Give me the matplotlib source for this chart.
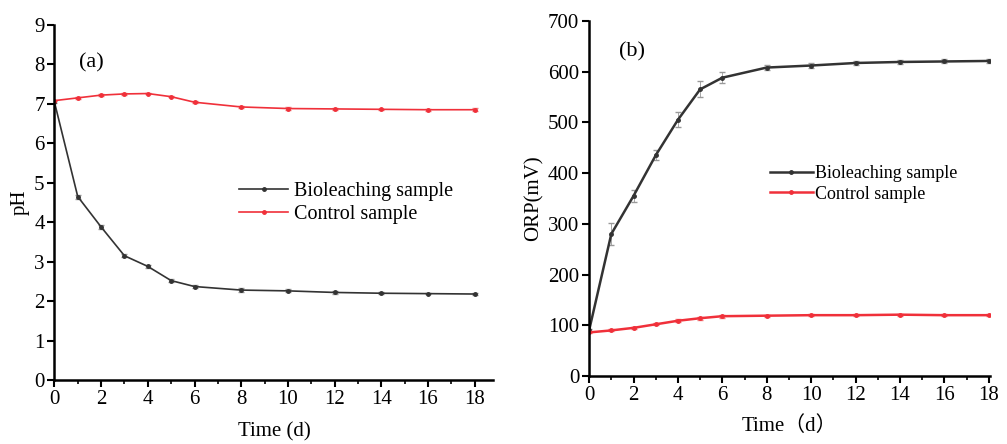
import matplotlib
matplotlib.use('Agg')
import matplotlib.pyplot as plt
from matplotlib.ticker import MultipleLocator

plt.rcParams['font.family'] = ['Liberation Serif', 'Noto Sans CJK SC']
plt.rcParams['font.size'] = 15

days = [0, 1, 2, 3, 4, 5, 6, 8, 10, 12, 14, 16, 18]

# pH
ph_bio = [7.05, 4.65, 3.88, 3.15, 2.88, 2.52, 2.37, 2.28, 2.26, 2.22, 2.20, 2.19, 2.18]
ph_bio_err = [0.02, 0.05, 0.05, 0.04, 0.04, 0.04, 0.03, 0.05, 0.04, 0.03, 0.03, 0.02, 0.02]
ph_ctl = [7.08, 7.15, 7.22, 7.25, 7.26, 7.18, 7.04, 6.92, 6.88, 6.87, 6.86, 6.85, 6.85]
ph_ctl_err = [0.02, 0.02, 0.02, 0.02, 0.02, 0.02, 0.03, 0.03, 0.03, 0.02, 0.02, 0.03, 0.04]

# ORP (mV)
orp_bio = [90, 280, 355, 435, 505, 565, 588, 608, 612, 617, 619, 620, 621]
orp_bio_err = [3, 22, 12, 10, 15, 16, 11, 5, 5, 4, 4, 4, 4]
orp_ctl = [86, 90, 95, 102, 109, 114, 118, 119, 120, 120, 121, 120, 120]
orp_ctl_err = [2, 2, 2, 2, 3, 3, 3, 2, 2, 2, 2, 2, 2]

black = '#333333'
red = '#f0303a'

fig = plt.figure(figsize=(10.07, 4.44), dpi=100)
ax1 = fig.add_axes([0.054, 0.144, 0.436, 0.800])
ax2 = fig.add_axes([0.585, 0.153, 0.398, 0.800])

def style(ax):
    ax.spines['top'].set_visible(False)
    ax.spines['right'].set_visible(False)
    ax.spines['left'].set_linewidth(1.8)
    ax.spines['bottom'].set_linewidth(1.8)
    ax.xaxis.set_major_locator(MultipleLocator(2))
    ax.xaxis.set_minor_locator(MultipleLocator(1))
    ax.tick_params(direction='out', width=1.5, length=5, pad=2)
    ax.tick_params(which='minor', direction='out', width=1.2, length=3)

def series(ax, y, err, color, lw, label):
    ax.errorbar(days, y, yerr=err, fmt='none', capsize=2.5, elinewidth=0.6,
                ecolor='#999999' if color == black else '#f08080')
    ax.plot(days, y, color=color, lw=lw, marker='o', ms=2.5, label=label)

# (a) pH
series(ax1, ph_bio, ph_bio_err, black, 1.2, 'Bioleaching sample')
series(ax1, ph_ctl, ph_ctl_err, red, 1.2, 'Control sample')
ax1.set_xlim(0, 18.8)
ax1.set_ylim(0, 9)
ax1.yaxis.set_major_locator(MultipleLocator(1))
style(ax1)
ax1.set_xlabel('Time (d)', labelpad=10)
ax1.set_ylabel('pH', labelpad=3)
ax1.text(0.055, 0.92, '(a)', transform=ax1.transAxes, fontsize=16, va='top')
ax1.legend(loc='upper left', bbox_to_anchor=(0.38, 0.61), frameon=False,
           handlelength=2.4, handletextpad=0.3, labelspacing=0.2, fontsize=14.5)

# (b) ORP
series(ax2, orp_bio, orp_bio_err, black, 1.8, 'Bioleaching sample')
series(ax2, orp_ctl, orp_ctl_err, red, 1.8, 'Control sample')
ax2.set_xlim(0, 18.05)
ax2.set_ylim(0, 700)
ax2.yaxis.set_major_locator(MultipleLocator(100))
style(ax2)
ax2.set_xlabel('Time（d）', labelpad=8)
ax2.set_ylabel('ORP(mV)', labelpad=3)
ax2.text(0.075, 0.94, '(b)', transform=ax2.transAxes, fontsize=16, va='top')
ax2.legend(loc='upper left', bbox_to_anchor=(0.41, 0.64), frameon=False,
           handlelength=2.4, handletextpad=0.1, labelspacing=0.2, fontsize=13)

fig.savefig('out.png', dpi=100)
